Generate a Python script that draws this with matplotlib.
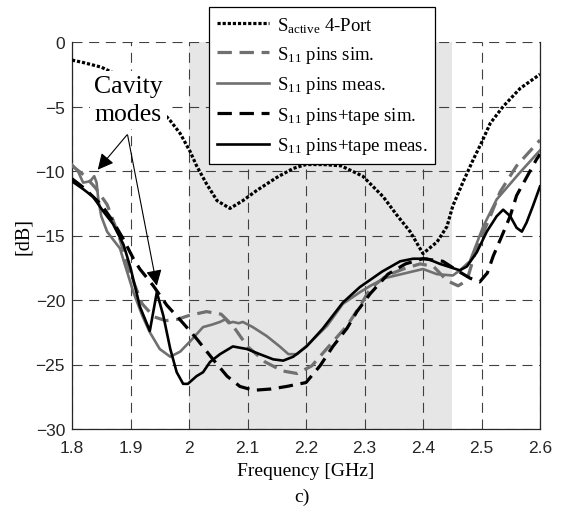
import numpy as np
import matplotlib
matplotlib.use('Agg')
import matplotlib.pyplot as plt

matplotlib.rcParams['mathtext.fontset'] = 'custom'
matplotlib.rcParams['mathtext.rm'] = 'Liberation Serif'
matplotlib.rcParams['mathtext.it'] = 'Liberation Serif:italic'

# S_active, 4-port (dotted)
f_act = [1.80, 1.82, 1.85, 1.88, 1.91, 1.94, 1.968, 1.985, 2.002, 2.013, 2.03, 2.048,
         2.07, 2.092, 2.116, 2.15, 2.178, 2.20, 2.23, 2.26, 2.297, 2.332, 2.355, 2.378,
         2.40, 2.424, 2.441, 2.451, 2.468, 2.485, 2.50, 2.515, 2.537, 2.566, 2.60]
s_act = [-1.4, -1.6, -1.95, -2.6, -3.5, -4.7, -6.1, -7.1, -8.5, -9.6, -11.0, -12.3,
         -12.9, -12.3, -11.5, -10.5, -9.8, -9.5, -9.5, -9.6, -10.4, -12.0, -13.4, -14.7,
         -16.4, -15.5, -14.3, -12.7, -10.9, -9.2, -7.8, -6.3, -5.0, -3.6, -2.5]

# S11 pins, simulated
f_ps = [1.80, 1.82, 1.84, 1.86, 1.88, 1.90, 1.92, 1.94, 1.96, 1.98, 2.00, 2.03, 2.055,
        2.075, 2.10, 2.13, 2.16, 2.185, 2.21, 2.235, 2.27, 2.292, 2.31, 2.338, 2.366,
        2.395, 2.418, 2.441, 2.46, 2.475, 2.49, 2.515, 2.532, 2.56, 2.60]
s_ps = [-9.6, -10.3, -11.3, -12.6, -15.0, -18.0, -20.3, -21.3, -21.6, -21.5, -21.2, -20.9,
        -21.1, -22.0, -23.6, -24.8, -25.5, -25.7, -25.1, -23.8, -22.0, -20.5, -19.1, -18.1,
        -17.6, -17.2, -17.4, -18.5, -18.9, -18.5, -16.2, -13.5, -11.6, -9.6, -7.6]

# S11 pins, measured
f_pm = [1.80, 1.81, 1.819, 1.831, 1.838, 1.842, 1.845, 1.85, 1.86, 1.87, 1.882, 1.89,
        1.905, 1.92, 1.933, 1.95, 1.968, 1.985, 2.002, 2.024, 2.04, 2.053, 2.062, 2.068,
        2.075, 2.085, 2.092, 2.109, 2.133, 2.155, 2.17, 2.185, 2.207, 2.236, 2.263, 2.292,
        2.31, 2.335, 2.372, 2.40, 2.424, 2.451, 2.463, 2.48, 2.503, 2.526, 2.566, 2.60]
s_pm = [-9.5, -10.0, -10.9, -10.8, -10.4, -10.9, -12.2, -13.5, -14.7, -15.3, -16.0, -17.2,
        -19.4, -21.2, -22.5, -23.8, -24.4, -24.0, -23.2, -22.1, -21.9, -21.7, -21.5, -21.8,
        -21.7, -21.8, -21.7, -22.1, -22.8, -23.6, -24.2, -24.2, -23.3, -22.0, -20.3, -19.4,
        -18.9, -18.3, -17.9, -17.6, -18.0, -18.1, -17.7, -17.0, -14.3, -12.2, -10.1, -8.4]

# S11 pins+tape, simulated
f_ts = [1.80, 1.82, 1.85, 1.87, 1.888, 1.905, 1.916, 1.939, 1.962, 1.99, 2.013, 2.041,
        2.065, 2.087, 2.11, 2.14, 2.167, 2.20, 2.224, 2.246, 2.27, 2.287, 2.31, 2.34,
        2.37, 2.40, 2.434, 2.458, 2.48, 2.497, 2.51, 2.52, 2.537, 2.549, 2.56, 2.594, 2.60]
s_ts = [-10.6, -11.3, -12.6, -13.9, -15.3, -16.8, -17.6, -18.9, -20.4, -21.8, -23.0, -24.6,
        -25.9, -26.7, -27.0, -26.9, -26.7, -26.4, -25.1, -23.6, -22.2, -20.9, -19.5, -18.0,
        -17.2, -16.8, -17.0, -17.7, -18.3, -18.6, -17.9, -16.6, -14.8, -13.5, -11.9, -9.1, -8.7]

# S11 pins+tape, measured
f_tm = [1.80, 1.819, 1.836, 1.853, 1.87, 1.888, 1.90, 1.916, 1.933, 1.945, 1.956, 1.968,
        1.979, 1.99, 1.998, 2.013, 2.024, 2.036, 2.053, 2.075, 2.099, 2.121, 2.144, 2.161,
        2.178, 2.201, 2.229, 2.263, 2.292, 2.33, 2.361, 2.383, 2.407, 2.429, 2.463, 2.475,
        2.492, 2.509, 2.526, 2.537, 2.549, 2.56, 2.569, 2.577, 2.588, 2.60]
s_tm = [-10.8, -11.4, -12.0, -13.1, -14.1, -15.7, -17.5, -20.5, -22.4, -19.4, -21.2, -23.8,
        -25.6, -26.5, -26.5, -25.9, -25.6, -24.8, -24.2, -23.6, -23.8, -24.2, -24.6, -24.7,
        -24.4, -23.6, -22.2, -20.2, -19.0, -17.8, -17.0, -16.8, -16.8, -17.2, -17.7, -17.4,
        -16.3, -14.7, -13.5, -13.0, -13.5, -14.4, -14.7, -14.0, -12.7, -11.2]

xticks = [1.8, 1.9, 2.0, 2.1, 2.2, 2.3, 2.4, 2.5, 2.6]
xticklabels = ['1.8', '1.9', '2', '2.1', '2.2', '2.3', '2.4', '2.5', '2.6']
yticks = [0, -5, -10, -15, -20, -25, -30]

gray = '#707070'
serif = 'Liberation Serif'

fig = plt.figure(figsize=(5.64, 5.10), dpi=100)
ax = fig.add_axes([72/564, 1-430/510, 468/564, 387/510])

ax.axvspan(2.0, 2.45, color='#e6e6e6', zorder=0, lw=0)
ax.grid(True, color='#404040', lw=0.8, linestyle=(0, (9, 6)), zorder=1)
ax.set_axisbelow(True)

ax.plot(f_act, s_act, color='k', lw=2.3, linestyle=(0, (1, 0.6)),
        label=r'$\mathrm{S_{active}}$ 4-Port', zorder=3)
ax.plot(f_ps, s_ps, color=gray, lw=2.3, linestyle=(0, (4.5, 2.4)),
        label=r'$\mathrm{S_{11}}$ pins sim.', zorder=3)
ax.plot(f_pm, s_pm, color=gray, lw=1.9, label=r'$\mathrm{S_{11}}$ pins meas.', zorder=3)
ax.plot(f_ts, s_ts, color='k', lw=2.3, linestyle=(0, (4.5, 2.4)),
        label=r'$\mathrm{S_{11}}$ pins+tape sim.', zorder=3)
ax.plot(f_tm, s_tm, color='k', lw=1.9, label=r'$\mathrm{S_{11}}$ pins+tape meas.', zorder=3)

ax.set_xlim(1.8, 2.6)
ax.set_ylim(-30, 0)
ax.set_xticks(xticks)
ax.set_xticklabels(xticklabels)
ax.set_yticks(yticks)
ax.tick_params(length=0, labelsize=12.5, colors='#262626', pad=8)
for lab in ax.get_xticklabels() + ax.get_yticklabels():
    lab.set_family('Liberation Sans')
ax.tick_params(axis='y', pad=5)
ax.spines['top'].set_visible(False)
for s in ['left', 'right', 'bottom']:
    ax.spines[s].set_color('#262626')
    ax.spines[s].set_linewidth(0.9)

ax.set_xlabel('Frequency [GHz]', family=serif, fontsize=14, labelpad=5)
ax.set_ylabel('[dB]', family=serif, fontsize=14.5, labelpad=2)
fig.text(302/564, 1-497/510, 'c)', family=serif, fontsize=14, ha='center', va='center')

# annotation
ax.text(1.896, -4.5, 'Cavity\nmodes', family=serif, fontsize=18.5, ha='center', va='center',
        linespacing=1.3, zorder=5,
        bbox=dict(facecolor='white', edgecolor='none', pad=3))
arr = dict(arrowstyle='-|>', color='k', lw=0.8, mutation_scale=24, shrinkA=0, shrinkB=0)
ax.annotate('', xy=(1.844, -9.9), xytext=(1.894, -7.2), arrowprops=arr, zorder=4)
ax.annotate('', xy=(1.945, -18.9), xytext=(1.895, -7.2), arrowprops=arr, zorder=4)

leg = ax.legend(loc='upper left', bbox_to_anchor=(209/564, 1-8/510), bbox_transform=fig.transFigure,
                borderaxespad=0, prop={'family': serif, 'size': 13.5}, fancybox=False,
                framealpha=1, edgecolor='k', handlelength=2.8, handletextpad=0.4,
                labelspacing=0.5, borderpad=0.42)
leg.get_frame().set_linewidth(0.9)
leg.set_zorder(6)

fig.savefig('out.png', dpi=100)
